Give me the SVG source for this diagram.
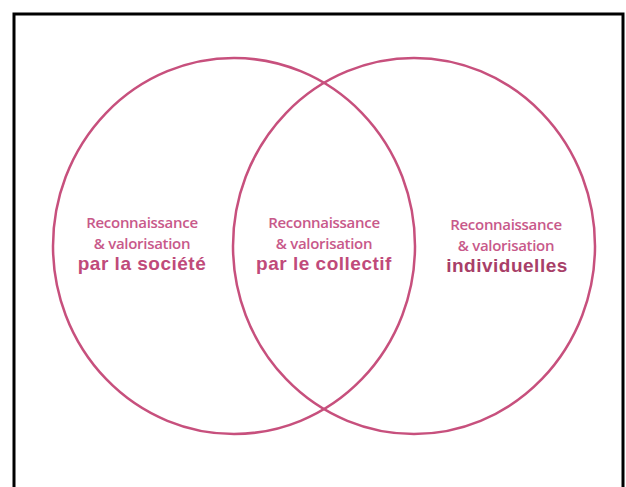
<svg xmlns="http://www.w3.org/2000/svg" width="626" height="487" viewBox="0 0 626 487">
<style>
.c{fill:none;stroke:#c7507d;stroke-width:2.5}
.t{font-family:"Open Sans",Lato,sans-serif;font-weight:600;font-size:15px;letter-spacing:-0.3px;fill:#c8598a;text-anchor:middle}
.b{font-family:"Liberation Sans",Arial,sans-serif;font-weight:bold;font-size:19px;fill:#c04a7a;text-anchor:middle;letter-spacing:0.5px}
</style>
<rect width="626" height="487" fill="#fff"/>
<rect x="14" y="14" width="609" height="490" fill="none" stroke="#000" stroke-width="3"/>
<g id="left">
<ellipse class="c" cx="234" cy="246" rx="181" ry="188"/>
<text class="t" x="142" y="228">Reconnaissance</text>
<text class="t" x="142" y="249">&amp; valorisation</text>
<text class="b" x="142" y="270">par la société</text>
</g>
<g id="right">
<ellipse class="c" cx="414" cy="246" rx="181" ry="188"/>
<text class="t" x="506" y="230">Reconnaissance</text>
<text class="t" x="506" y="251">&amp; valorisation</text>
<text class="b" x="507" y="272" style="fill:#a83f68">individuelles</text>
</g>
<g id="center">
<text class="t" x="324" y="228">Reconnaissance</text>
<text class="t" x="324" y="249">&amp; valorisation</text>
<text class="b" x="324" y="270">par le collectif</text>
</g>
<g id="connectors"></g>
</svg>
